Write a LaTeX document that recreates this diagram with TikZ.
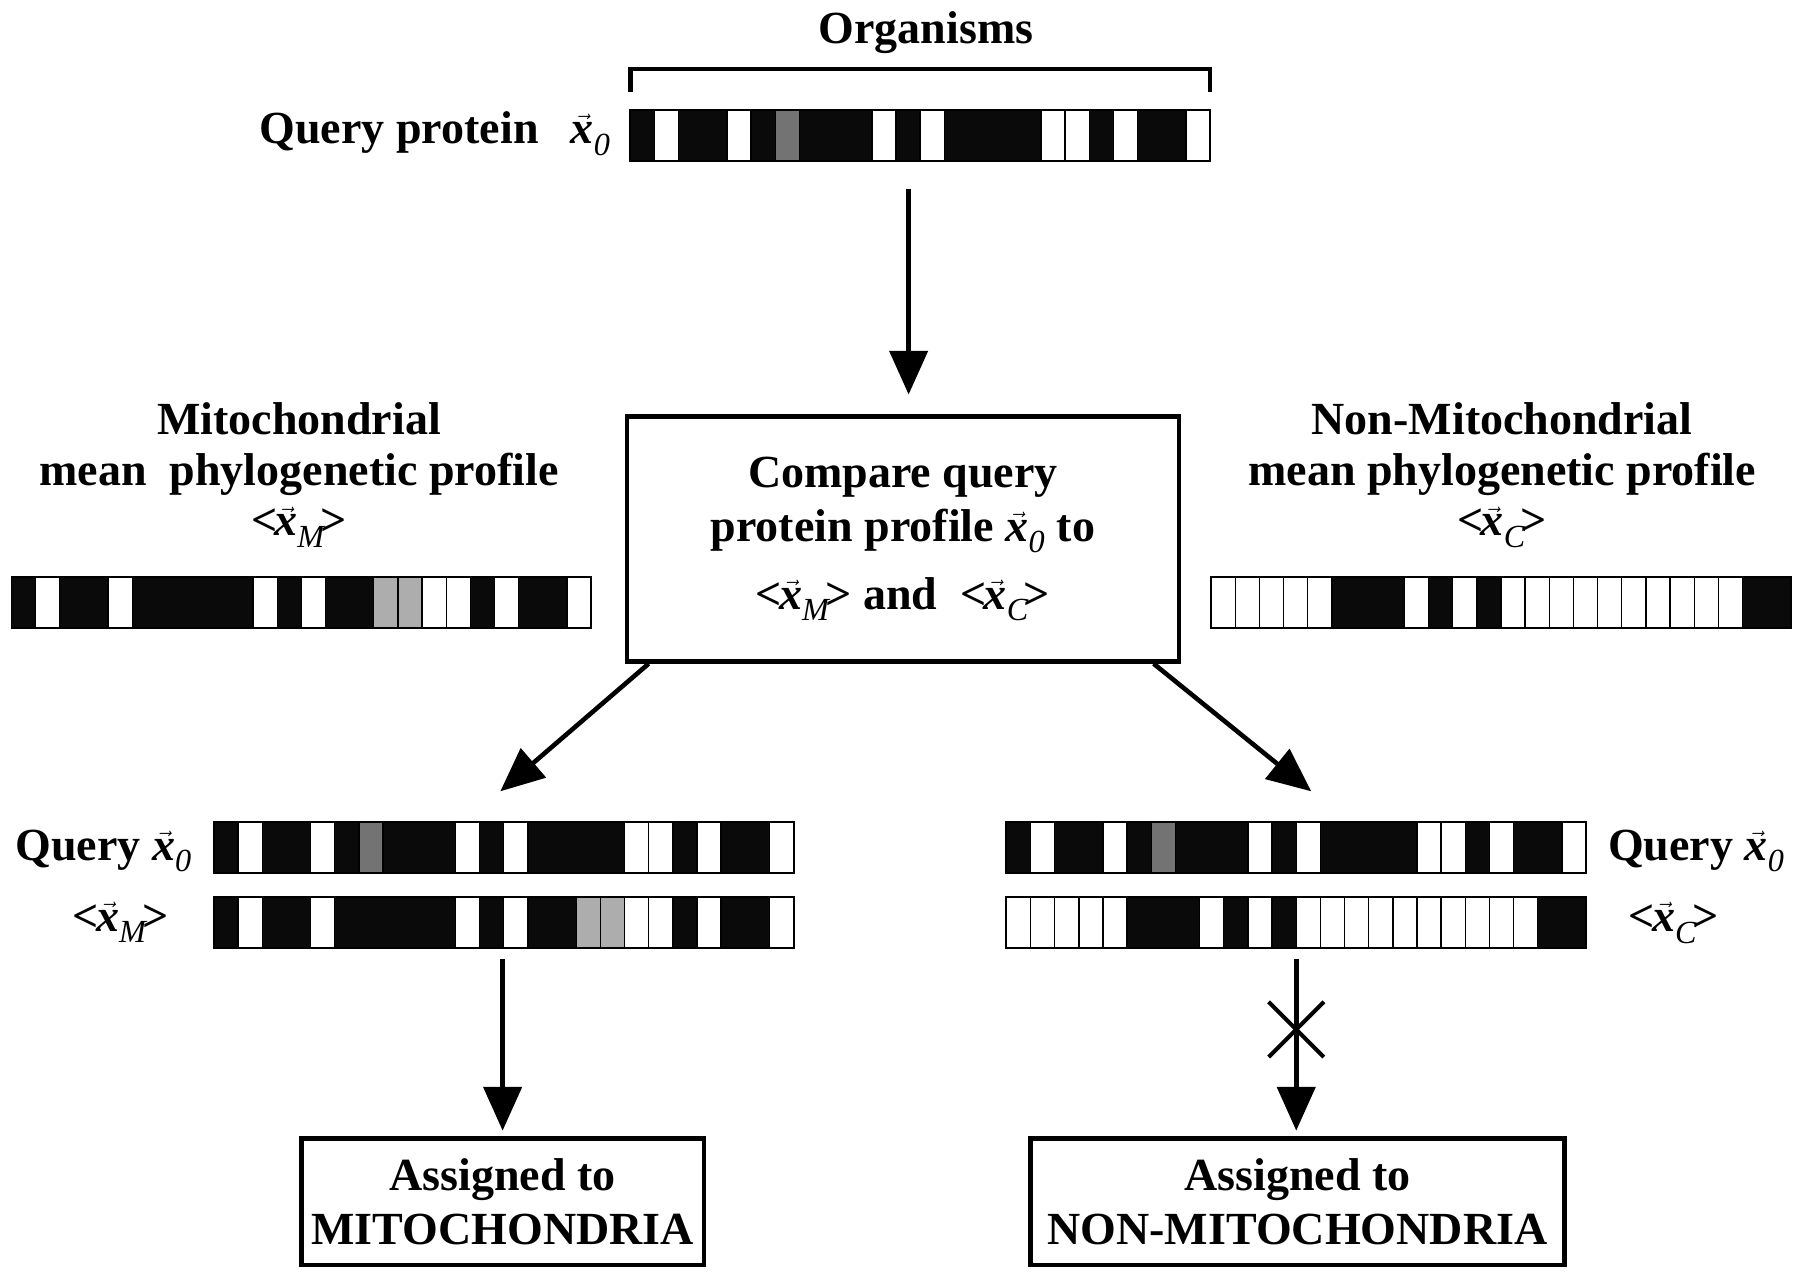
\documentclass[tikz,border=0pt]{standalone}
\usepackage{fontspec}
\usepackage{amsmath}
\setmainfont{Liberation Serif}
\usetikzlibrary{arrows.meta,calc}
\definecolor{barblack}{gray}{0.04}
\definecolor{qgray}{gray}{0.45}
\definecolor{mgray}{gray}{0.68}
\newcommand{\xv}[1]{$\vec{\textbf{\textit{x}}}_{\textmd{\textit{#1}}}$}
\newcommand{\mxv}[1]{<\kern-0.06em\xv{#1}\kern-0.12em>}
\newcommand{\profile}[4]{%
  \foreach \cl [count=\i from 0] in {#4} {
    \path[cell\cl] ({#2+\i*21},#3) rectangle ++(21,44);
  }
  \foreach \cl [count=\i from 0] in {#4} {
    \path[edge\cl] ({#2+\i*21},#3) rectangle ++(21,44);
  }
  \node[barframe, anchor=north west] (#1) at (#2,#3) {};
}
\tikzset{
  cellB/.style={fill=barblack, draw=barblack, line width=0.8},
  cellW/.style={fill=white},
  cellG/.style={fill=qgray},
  cellL/.style={fill=mgray},
  edgeB/.style={},
  edgeW/.style={draw=black, line width=1.2},
  edgeG/.style={draw=black, line width=1.2},
  edgeL/.style={draw=black, line width=1.2},
  barframe/.style={draw=black, line width=1.6, minimum width=504, minimum height=44, inner sep=0, outer sep=0},
  lbl/.style={font=\fontsize{40}{44}\selectfont\bfseries, inner sep=0},
  boxnode/.style={draw=black, line width=4, align=center, font=\fontsize{40}{47}\selectfont\bfseries, inner sep=0},
  arr/.style={line width=4, -{Triangle[length=38pt,width=33pt]}},
  xmark/.style={line width=3.5},
}
\begin{document}
\begin{tikzpicture}[x=1pt,y=-1pt]
\useasboundingbox (0,0) rectangle (1565,1116);
% profiles
\profile{qbar}{548}{96}{B,W,B,B,W,B,G,B,B,B,W,B,W,B,B,B,B,W,W,B,W,B,B,W}
\profile{mbar}{10}{502}{B,W,B,B,W,B,B,B,B,B,W,B,W,B,B,L,L,W,W,B,W,B,B,W}
\profile{cbar}{1053}{502}{W,W,W,W,W,B,B,B,W,B,W,B,W,W,W,W,W,W,W,W,W,W,B,B}
\profile{lq}{186}{715}{B,W,B,B,W,B,G,B,B,B,W,B,W,B,B,B,B,W,W,B,W,B,B,W}
\profile{lm}{186}{780}{B,W,B,B,W,B,B,B,B,B,W,B,W,B,B,L,L,W,W,B,W,B,B,W}
\profile{rq}{875}{715}{B,W,B,B,W,B,G,B,B,B,W,B,W,B,B,B,B,W,W,B,W,B,B,W}
\profile{rc}{875}{780}{W,W,W,W,W,B,B,B,W,B,W,B,W,W,W,W,W,W,W,W,W,W,B,B}
% top labels
\node[lbl, anchor=base] (org) at (805,38) {Organisms};
\draw[line width=4, line join=miter] ([yshift=16]qbar.north west) -- ([yshift=36]qbar.north west) -- ([yshift=36]qbar.north east) -- ([yshift=16]qbar.north east);
\node[lbl, anchor=base east] (qp) at (531,125) {Query protein\hspace{0.7em}\xv{0}};
% side labels (base = baseline of last line)
\node[lbl, align=center, anchor=base] (mlab) at (260,466) {Mitochondrial\\mean\ \ phylogenetic profile\\\mxv{M}};
\node[lbl, align=center, anchor=base] (clab) at (1306,466) {Non-Mitochondrial\\mean phylogenetic profile\\\mxv{C}};
% central box
\node[boxnode, minimum width=480, minimum height=213] (cbox) at (785,468.5)
  {Compare query\\protein profile \xv{0} to\\[12pt]\mxv{M} and\ \ \mxv{C}};
% bottom row labels
\node[lbl, anchor=base east] (lqt) at (167,748) {Query \xv{0}};
\node[lbl, anchor=base] (lmt) at (105,810) {\mxv{M}};
\node[lbl, anchor=base west] (rqt) at (1398,748) {Query \xv{0}};
\node[lbl, anchor=base] (rct) at (1455,810) {\mxv{C}};
% result boxes
\node[boxnode, minimum width=350, minimum height=110] (lbox) at (437,1045) {Assigned to\\MITOCHONDRIA};
\node[boxnode, minimum width=464, minimum height=110] (rbox) at (1128,1045) {Assigned to\\NON-MITOCHONDRIA};
% connectors
\coordinate (tipL) at (435,688);
\coordinate (tipR) at (1140,688);
\coordinate (xm) at (1127,895);
\draw[arr, shorten <=24, shorten >=17] ([xshift=-10]qbar.south) -- ([xshift=5]cbox.north);
\draw[arr] ([xshift=21]cbox.south west) -- (tipL);
\draw[arr] ([xshift=-24]cbox.south east) -- (tipR);
\draw[arr, shorten <=10, shorten >=5] ([xshift=-1]lm.south) -- ([xshift=-1]lm.south |- lbox.north);
\draw[arr, shorten <=10, shorten >=5] (rc.south) -- (rc.south |- rbox.north);
\draw[xmark] ($(xm)+(-24,-24)$) -- ($(xm)+(24,24)$);
\draw[xmark] ($(xm)+(-24,24)$) -- ($(xm)+(24,-24)$);
\end{tikzpicture}
\end{document}
